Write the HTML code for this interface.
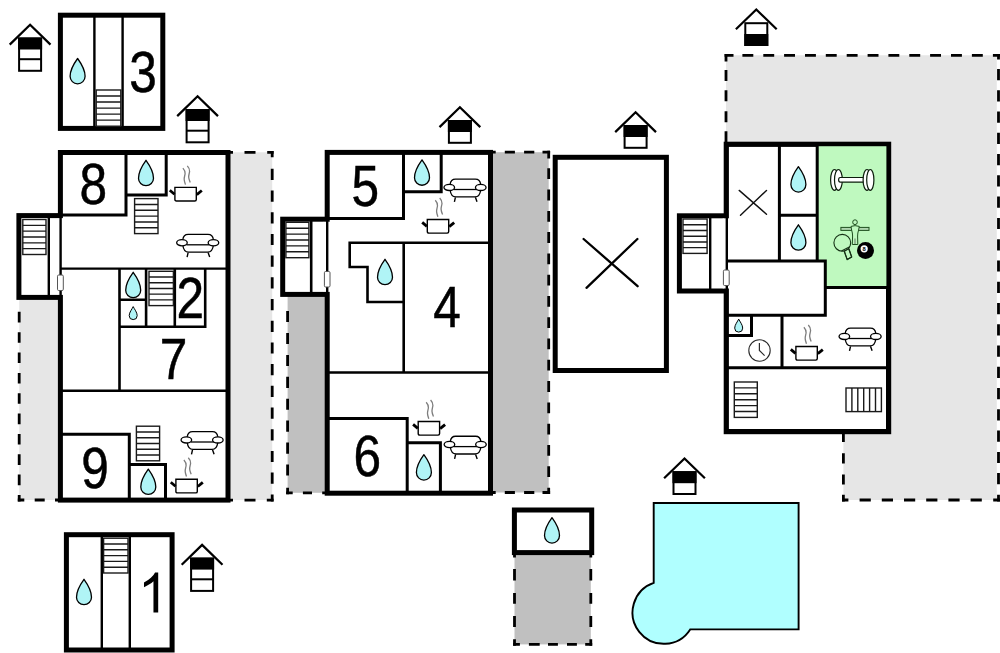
<!DOCTYPE html>
<html><head><meta charset="utf-8">
<style>
html,body{margin:0;padding:0;background:#fff;}
svg{display:block;}
text{font-family:"Liberation Sans",sans-serif;fill:#000;}
</style></head><body>
<svg width="1000" height="653" viewBox="0 0 1000 653">
<defs>
  <g id="drop"><path d="M0,1.500 C3.200,5.900 7.500,12.600 7.500,19.350 A7.500,7.500 0 0 1 -7.500,19.350 C-7.500,12.600 -3.200,5.900 0,1.500 Z" fill="#b0f4f6" stroke="#000" stroke-width="1.3" stroke-linejoin="round"/></g>
  <g id="dropS"><path d="M0,0.4 C1.1,2.8 4,6.2 4,9.4 A4,4 0 0 1 -4,9.4 C-4,6.2 -1.1,2.8 0,0.4 Z" fill="#b0f4f6" stroke="#000" stroke-width="1" stroke-linejoin="round"/></g>
  <g id="pot">
    <path d="M0.7,0.7 H22.1 V12.8 Q22.1,14.300 20.6,14.3 H2.2 Q0.7,14.300 0.7,12.8 Z" fill="#fff" stroke="#000" stroke-width="1.4"/>
    <path d="M-4.4,3.6 L0.3,7.6" stroke="#000" stroke-width="2.8" fill="none"/>
    <path d="M27.600,3.800 L22.600,7.900" stroke="#000" stroke-width="2.8" fill="none"/>
    <path d="M8.700,-18.600 C10.3,-16.8 11.100,-15 10.900,-13.100 C10.700,-11 9.800,-9.300 10.000,-7.200 C10.100,-5.300 10.800,-3.600 11.300,-2.100" stroke="#7d7d7d" stroke-width="1.300" fill="none"/>
    <path d="M13.100,-20.800 C14.8,-19 15.600,-17.200 15.400,-15.300 C15.200,-13.200 14.300,-11.500 14.500,-9.400 C14.600,-7.500 15.400,-5.800 16.000,-4.300" stroke="#7d7d7d" stroke-width="1.300" fill="none"/>
  </g>
  <g id="sofa" fill="#fff" stroke="#000" stroke-width="1.3">
    <path d="M6.8,6 Q7.4,0.65 12.2,0.65 H32 Q36.800,0.650 37.4,6"/>
    <path d="M6.8,11.2 Q7.6,18.400 12.600,18.400 H31.600 Q36.600,18.400 37.4,11.2"/>
    <path d="M10.500,11 H33.500"/>
    <ellipse cx="5.950" cy="8.900" rx="5.300" ry="3.100"/>
    <ellipse cx="37.450" cy="8.900" rx="5.300" ry="3.100"/>
    <path d="M12.100,18.800 L11.100,23.300 M32.100,18.800 L33.700,23.300" fill="none" stroke-width="1.400"/>
  </g>
</defs>
<rect width="1000" height="653" fill="#fff"/>

<g id="shades"><rect x="228" y="152.3" width="44.2" height="347.8" fill="#e6e6e6"/><path d="M228.0,152.3 H233.0 M244.5,152.3 H255.5 M267.2,152.3 H273.6" stroke="#000" stroke-width="2.8" fill="none"/><path d="M272.2,150.9 V157.2 M272.2,168.8 V180.0 M272.2,190.5 V201.7 M272.2,212.2 V223.4 M272.2,233.9 V245.1 M272.2,255.6 V266.8 M272.2,277.3 V288.5 M272.2,299.0 V310.2 M272.2,320.7 V331.9 M272.2,342.4 V353.6 M272.2,364.1 V375.3 M272.2,385.8 V397.0 M272.2,407.5 V418.7 M272.2,429.2 V440.4 M272.2,450.9 V462.1 M272.2,472.6 V483.8 M272.2,494.5 V501.5" stroke="#000" stroke-width="2.8" fill="none"/><path d="M228.0,500.1 H233.0 M244.5,500.1 H255.5 M266.8,500.1 H273.6" stroke="#000" stroke-width="2.8" fill="none"/><rect x="19.2" y="297" width="41" height="203" fill="#e6e6e6"/><path d="M19.2,311.8 V322.4 M19.2,332.2 V342.8 M19.2,352.5 V363.1 M19.2,372.9 V383.5 M19.2,393.2 V403.8 M19.2,413.6 V424.2 M19.2,433.9 V444.5 M19.2,454.2 V464.9 M19.2,474.6 V485.2 M19.2,495.1 V501.4" stroke="#000" stroke-width="2.8" fill="none"/><path d="M17.8,500 H24.3 M34.7,500 H44.7 M55.0,500 H60.0" stroke="#000" stroke-width="2.8" fill="none"/><rect x="490" y="152.2" width="58.7" height="340.3" fill="#c0c0c0"/><path d="M488.0,152.2 H495.7 M504.8,152.2 H514.9 M524.1,152.2 H534.3 M542.5,152.2 H550.1" stroke="#000" stroke-width="2.8" fill="none"/><path d="M548.7,150.8 V158.4 M548.7,168.3 V179.1 M548.7,189.6 V200.4 M548.7,210.9 V221.7 M548.7,232.1 V242.9 M548.7,253.4 V264.2 M548.7,274.7 V285.5 M548.7,296.0 V306.8 M548.7,317.3 V328.1 M548.7,338.5 V349.3 M548.7,359.8 V370.6 M548.7,381.1 V391.9 M548.7,402.4 V413.2 M548.7,423.7 V434.5 M548.7,444.9 V455.7 M548.7,466.2 V477.0 M548.7,487.7 V493.9" stroke="#000" stroke-width="2.8" fill="none"/><path d="M488.0,492.5 H495.7 M504.8,492.5 H514.9 M524.1,492.5 H534.3 M542.5,492.5 H550.1" stroke="#000" stroke-width="2.8" fill="none"/><rect x="287.6" y="294" width="40" height="198.8" fill="#c0c0c0"/><path d="M287.6,311.0 V322.1 M287.6,332.9 V344.0 M287.6,354.9 V366.0 M287.6,376.8 V387.9 M287.6,398.7 V409.8 M287.6,420.6 V431.8 M287.6,442.6 V453.7 M287.6,464.5 V475.6 M287.6,487.8 V494.2" stroke="#000" stroke-width="2.8" fill="none"/><path d="M286.2,492.8 H292.7 M302.9,492.8 H312.0 M322.2,492.8 H328.0" stroke="#000" stroke-width="2.8" fill="none"/><path d="M726,55.3 H996.8 V500 H843.4 V430 H726 Z" fill="#e6e6e6"/><path d="M726,53.9 V61.4 M726,69.9 V81.0 M726,90.2 V101.3 M726,111.2 V122.3 M726,131.2 V142.0" stroke="#000" stroke-width="2.8" fill="none"/><path d="M724.6,55.3 H733.5 M742.4,55.3 H753.3 M763.3,55.3 H774.2 M784.1,55.3 H795.0 M805.0,55.3 H815.9 M825.8,55.3 H836.7 M846.7,55.3 H857.6 M867.6,55.3 H878.5 M888.4,55.3 H899.3 M909.3,55.3 H920.2 M930.1,55.3 H941.0 M951.0,55.3 H961.9 M971.9,55.3 H982.8 M992.9,55.3 H1000.0" stroke="#000" stroke-width="2.8" fill="none"/><path d="M998.5,53.9 V59.5 M998.5,69.0 V80.2 M998.5,90.3 V101.5 M998.5,111.5 V122.7 M998.5,132.8 V144.0 M998.5,154.1 V165.3 M998.5,175.3 V186.5 M998.5,196.6 V207.8 M998.5,217.9 V229.1 M998.5,239.2 V250.4 M998.5,260.4 V271.6 M998.5,281.7 V292.9 M998.5,303.0 V314.2 M998.5,324.2 V335.4 M998.5,345.5 V356.7 M998.5,366.8 V378.0 M998.5,388.1 V399.2 M998.5,409.3 V420.5 M998.5,430.6 V441.8 M998.5,451.9 V463.1 M998.5,473.1 V484.3 M998.5,494.8 V501.4" stroke="#000" stroke-width="2.8" fill="none"/><path d="M842.0,500 H848.4 M859.6,500 H870.8 M881.8,500 H893.0 M904.0,500 H915.2 M926.2,500 H937.4 M948.4,500 H959.6 M970.6,500 H981.8 M993.2,500 H1000.0" stroke="#000" stroke-width="2.8" fill="none"/><path d="M843.4,432.0 V442.1 M843.4,453.2 V463.4 M843.4,474.4 V484.6 M843.4,494.8 V501.4" stroke="#000" stroke-width="2.8" fill="none"/><rect x="514.5" y="552" width="76.3" height="92.4" fill="#c0c0c0"/><path d="M514.5,554.0 V557.5 M514.5,569.0 V580.4 M514.5,593.0 V603.7 M514.5,616.1 V626.9 M514.5,639.3 V645.8" stroke="#000" stroke-width="2.8" fill="none"/><path d="M590.8,554.0 V557.5 M590.8,569.0 V580.4 M590.8,593.0 V603.7 M590.8,616.1 V626.9 M590.8,639.3 V645.8" stroke="#000" stroke-width="2.8" fill="none"/><path d="M513.1,644.4 H519.9 M528.9,644.4 H539.7 M548.0,644.4 H557.9 M567.0,644.4 H576.9 M585.2,644.4 H592.2" stroke="#000" stroke-width="2.8" fill="none"/></g>
<g id="b3"><rect x="60.4" y="15.2" width="102.4" height="113.2" fill="#fff" stroke="#000" stroke-width="5"/><path d="M94.4,15 V128.400 M122.6,15 V128.400" stroke="#000" stroke-width="2.4"/><g stroke="#1a1a1a" stroke-width="1.4" fill="#fff"><rect x="96.2" y="90.0" width="24.6" height="36.2"/><path d="M96.2,96.03 h24.6 M96.2,102.07 h24.6 M96.2,108.10 h24.6 M96.2,114.13 h24.6 M96.2,120.17 h24.6 "/></g><use href="#drop" x="77.6" y="57"/><text transform="translate(143,92) scale(0.87,1)" font-size="57" text-anchor="middle" stroke="#000" stroke-width="0.5">3</text><g><path d="M9.70,44.60 L30.1,24.80 L50.50,44.60" fill="none" stroke="#000" stroke-width="2.25"/><rect x="19.10" y="38.50" width="22.00" height="32.30" fill="#fff" stroke="#000" stroke-width="2"/><rect x="18.10" y="37.50" width="24.00" height="12" fill="#000"/><path d="M19.10,59.20 H41.10" stroke="#000" stroke-width="2"/></g></g>
<g id="bA"><rect x="18.9" y="215.6" width="41" height="81.8" fill="#fff" stroke="#000" stroke-width="5"/><path d="M48.8,215.5 V297" stroke="#000" stroke-width="2.4"/><g stroke="#1a1a1a" stroke-width="1.4" fill="#fff"><rect x="22.8" y="219.5" width="23.2" height="35.0"/><path d="M22.8,225.33 h23.2 M22.8,231.17 h23.2 M22.8,237.00 h23.2 M22.8,242.83 h23.2 M22.8,248.67 h23.2 "/></g><rect x="60.4" y="152.5" width="167.6" height="347.6" fill="#fff" stroke="#000" stroke-width="5"/><path d="M60.4,218.1 V294.9" stroke="#fff" stroke-width="7"/><path d="M60.6,217 V296" stroke="#000" stroke-width="2.4"/><path d="M126,152 V216.5 M60,215 H127.5 M126,195 H166.2 M166.2,152 V196.5" stroke="#000" stroke-width="3" fill="none"/><g stroke="#1a1a1a" stroke-width="1.4" fill="#fff"><rect x="134.6" y="198.6" width="23.4" height="35"/><path d="M134.6,204.43 h23.4 M134.6,210.27 h23.4 M134.6,216.10 h23.4 M134.6,221.93 h23.4 M134.6,227.77 h23.4 "/></g><use href="#drop" x="146" y="158.8"/><use href="#pot" x="174.2" y="186.700"/><use href="#sofa" x="176" y="233.800"/><path d="M60,268.6 H228" stroke="#000" stroke-width="2.4"/><path d="M119.5,268.6 V391 M60,390.8 H228 M119.5,326.8 H206.5 M205.2,268.6 V326.8 M146.1,268.6 V326.8 M174.8,268.6 V326.8 M119.5,299.7 H146.1" stroke="#000" stroke-width="2.6" fill="none"/><g stroke="#1a1a1a" stroke-width="1.4" fill="#fff"><rect x="149" y="271.3" width="24.4" height="34.3"/><path d="M149,277.02 h24.4 M149,282.73 h24.4 M149,288.45 h24.4 M149,294.17 h24.4 M149,299.88 h24.4 "/></g><use href="#drop" x="133.2" y="270.8"/><use href="#dropS" x="133.2" y="306.2"/><text transform="translate(190.3,318) scale(0.87,1)" font-size="57" text-anchor="middle" stroke="#000" stroke-width="0.5">2</text><text transform="translate(173.5,378.5) scale(0.87,1)" font-size="57" text-anchor="middle" stroke="#000" stroke-width="0.5">7</text><path d="M60,434.2 H129.3 V500 M129.3,464.4 H165.5 V500" stroke="#000" stroke-width="3" fill="none"/><g stroke="#1a1a1a" stroke-width="1.4" fill="#fff"><rect x="136.4" y="426.2" width="23.2" height="34.6"/><path d="M136.4,431.97 h23.2 M136.4,437.73 h23.2 M136.4,443.50 h23.2 M136.4,449.27 h23.2 M136.4,455.03 h23.2 "/></g><use href="#sofa" x="180.4" y="431"/><use href="#pot" x="175.2" y="478.600"/><use href="#drop" x="148.3" y="467.6"/><text transform="translate(95,487.5) scale(0.87,1)" font-size="57" text-anchor="middle" stroke="#000" stroke-width="0.5">9</text><text transform="translate(93.3,203.8) scale(0.87,1)" font-size="57" text-anchor="middle" stroke="#000" stroke-width="0.5">8</text><rect x="57.5" y="275" width="5.8" height="15.5" rx="1.2" fill="#fff" stroke="#555" stroke-width="1"/><g><path d="M177.20,116.10 L197.6,96.30 L218.00,116.10" fill="none" stroke="#000" stroke-width="2.25"/><rect x="186.60" y="110.00" width="22.00" height="32.30" fill="#fff" stroke="#000" stroke-width="2"/><rect x="185.60" y="109.00" width="24.00" height="12" fill="#000"/><path d="M186.60,130.70 H208.60" stroke="#000" stroke-width="2"/></g></g>
<g id="b1"><rect x="66.4" y="534.7" width="105.7" height="115.3" fill="#fff" stroke="#000" stroke-width="5"/><path d="M101.8,534 V650 M129.8,534 V650" stroke="#000" stroke-width="2.4"/><g stroke="#1a1a1a" stroke-width="1.4" fill="#fff"><rect x="103.6" y="538.2" width="24.4" height="34.8"/><path d="M103.6,544.00 h24.4 M103.6,549.80 h24.4 M103.6,555.60 h24.4 M103.6,561.40 h24.4 M103.6,567.20 h24.4 "/></g><use href="#drop" x="84" y="577.8"/><path transform="translate(138.13,612.6) scale(0.0263,-0.02735)" d="M763 0H583V1147Q518 1085 412.5 1023T223 930V1104Q373 1174.5 485.5 1275T644 1470H763V0Z" fill="#000"/><g><path d="M181.70,564.70 L202.1,544.90 L222.50,564.70" fill="none" stroke="#000" stroke-width="2.25"/><rect x="191.10" y="558.60" width="22.00" height="32.30" fill="#fff" stroke="#000" stroke-width="2"/><rect x="190.10" y="557.60" width="24.00" height="12" fill="#000"/><path d="M191.10,579.30 H213.10" stroke="#000" stroke-width="2"/></g></g>
<g id="bB"><rect x="282.7" y="219.2" width="44" height="75.2" fill="#fff" stroke="#000" stroke-width="5"/><path d="M311.2,219 V294" stroke="#000" stroke-width="2.6"/><g stroke="#1a1a1a" stroke-width="1.4" fill="#fff"><rect x="285.9" y="222.3" width="23" height="35.4"/><path d="M285.9,228.20 h23 M285.9,234.10 h23 M285.9,240.00 h23 M285.9,245.90 h23 M285.9,251.80 h23 "/></g><rect x="327.2" y="152.4" width="163.3" height="340.8" fill="#fff" stroke="#000" stroke-width="5"/><path d="M327.2,221.7 V291.9" stroke="#fff" stroke-width="7"/><path d="M327.2,220 V293.500" stroke="#000" stroke-width="2.4"/><path d="M327,218.5 H403.5 V152 M403.5,191.7 H441.2 V152" stroke="#000" stroke-width="3" fill="none"/><text transform="translate(365.3,205.7) scale(0.87,1)" font-size="57" text-anchor="middle" stroke="#000" stroke-width="0.5">5</text><use href="#drop" x="422" y="158.4"/><use href="#sofa" x="443.3" y="178.500"/><use href="#pot" x="426.6" y="218.800"/><path d="M490,242.8 H349.7 V267 H367.5 V302 H403.7 M403.7,242.8 V372.5 M327,372.5 H490" stroke="#000" stroke-width="2.6" fill="none"/><use href="#drop" x="385" y="257.8"/><text transform="translate(447,327.4) scale(0.87,1)" font-size="57" text-anchor="middle" stroke="#000" stroke-width="0.5">4</text><path d="M327,418.5 H407.2 V493 M407.2,442.7 H440.4 V493" stroke="#000" stroke-width="3" fill="none"/><text transform="translate(367.3,475.6) scale(0.87,1)" font-size="57" text-anchor="middle" stroke="#000" stroke-width="0.5">6</text><use href="#pot" x="417.5" y="420.800"/><use href="#sofa" x="443.5" y="435.600"/><use href="#drop" x="423.9" y="453.2"/><rect x="324.4" y="271.5" width="5.6" height="15.5" rx="1.2" fill="#fff" stroke="#555" stroke-width="1"/><g><path d="M439.50,127.10 L459.9,107.30 L480.30,127.10" fill="none" stroke="#000" stroke-width="2.25"/><rect x="448.90" y="121.00" width="22.00" height="21.80" fill="#fff" stroke="#000" stroke-width="2"/><rect x="447.90" y="120.00" width="24.00" height="12" fill="#000"/></g></g>
<g id="bC"><rect x="555.2" y="157.3" width="111.2" height="213.2" fill="#fff" stroke="#000" stroke-width="5"/><path d="M583.6,239 L637.6,286.200 M637.4,239 L586.5,287.800" stroke="#000" stroke-width="2.3" stroke-linecap="round"/><g><path d="M615.20,132.10 L635.6,112.30 L656.00,132.10" fill="none" stroke="#000" stroke-width="2.25"/><rect x="624.60" y="126.00" width="22.00" height="21.80" fill="#fff" stroke="#000" stroke-width="2"/><rect x="623.60" y="125.00" width="24.00" height="12" fill="#000"/></g></g>
<g id="bD"><rect x="679.4" y="215.8" width="47" height="75.2" fill="#fff" stroke="#000" stroke-width="5"/><path d="M710.2,215 V291" stroke="#000" stroke-width="2.4"/><g stroke="#1a1a1a" stroke-width="1.4" fill="#fff"><rect x="683" y="219" width="24.1" height="34.4"/><path d="M683,224.73 h24.1 M683,230.47 h24.1 M683,236.20 h24.1 M683,241.93 h24.1 M683,247.67 h24.1 "/></g><rect x="726.3" y="144.3" width="162.3" height="287.3" fill="#fff" stroke="#000" stroke-width="5.2"/><path d="M726.3,218.3 V288.5" stroke="#fff" stroke-width="7"/><path d="M726.8,217 V290" stroke="#000" stroke-width="2.4"/><path d="M817.2,146.3 H886.4 V287.6 H825.3 V261 H817.2 Z" fill="#bff9bf"/><path d="M779.4,144 V261 M817.2,144 V261 M779.4,215.2 H817.2 M726,261 H825.3 M825.3,259.500 V315.2 M726,315.2 H826.8 M825.3,287.6 H889 M726,367.8 H889 M782,315.2 V367.8 M726,335.400 H751.500 V315.2" stroke="#000" stroke-width="3" fill="none"/><path d="M739.2,190.400 L766.5,214.200 M766.5,190.400 L740.5,215.300" stroke="#111" stroke-width="1.4" stroke-linecap="round"/><use href="#drop" x="798.4" y="165.2"/><use href="#drop" x="798.4" y="223.3"/><use href="#dropS" x="738.7" y="318.7"/><circle cx="759.500" cy="350.500" r="10.700" fill="#fff" stroke="#2a2a2a" stroke-width="1.1"/><path d="M759.400,343 V350.400 L764.600,355.600" fill="none" stroke="#2a2a2a" stroke-width="1.2"/><use href="#pot" x="795.2" y="345.800"/><use href="#sofa" x="838.4" y="327.500"/><g stroke="#1a1a1a" stroke-width="1.4" fill="#fff"><rect x="734.3" y="382" width="23" height="35.4"/><path d="M734.3,387.90 h23 M734.3,393.80 h23 M734.3,399.70 h23 M734.3,405.60 h23 M734.3,411.50 h23 "/></g><g stroke="#1a1a1a" stroke-width="1.4" fill="#fff"><rect x="846" y="388" width="35.4" height="23.6"/><path d="M851.90,388 v23.6 M857.80,388 v23.6 M863.70,388 v23.6 M869.60,388 v23.6 M875.50,388 v23.6 "/></g><rect x="723.4" y="270" width="5.8" height="15.5" rx="1.2" fill="#fff" stroke="#555" stroke-width="1"/><g fill="#fff" stroke="#0c1c0c" stroke-width="1.2"><ellipse cx="834.5" cy="179.9" rx="3.9" ry="10.4"/><ellipse cx="838.4" cy="179.9" rx="3.9" ry="10.4"/><path d="M840.2,177.5 H864 V182.1 H840.2 Q838.6,182.1 838.6,179.8 Q838.6,177.500 840.2,177.500 Z"/><ellipse cx="867" cy="179.9" rx="3.9" ry="10.4"/><ellipse cx="870.3" cy="179.900" rx="3.6" ry="10.400"/></g><g stroke="#1f4f1f" stroke-width="1" fill="#bff9bf"><rect x="840.9" y="227.4" width="28.1" height="3" fill="#b0d6b0"/><path d="M851,226.4 Q855,224.9 859.3,226.4 L858.6,230 Q857.6,233 857.6,236 L857.8,244.5 H852.3 L852.6,236 Q852.6,233 851.6,230 Z"/><path d="M855,238.5 V244" stroke="#8aa88a" stroke-width="1.6"/><ellipse cx="855" cy="222.2" rx="2.3" ry="2.4"/></g><g stroke="#153015" stroke-width="1.1" fill="#bff9bf" stroke-linejoin="round"><path d="M844.2,250.6 L848.6,248.5 L851.7,257 L847.2,259.6 Z"/><circle cx="842.3" cy="242.8" r="8.4"/><path d="M841.4,251.100 L849.8,246.8" fill="none"/><path d="M844,250.9 L847.2,259.6 L851.7,257 L848.9,248.8" fill="none"/></g><circle cx="865.5" cy="250.5" r="8.500" fill="#000"/><circle cx="864.2" cy="248.800" r="3.600" fill="#fff"/><text x="864.2" y="250.900" font-size="5.800" font-weight="bold" text-anchor="middle">8</text><g><path d="M735.90,29.30 L756.3,9.50 L776.70,29.30" fill="none" stroke="#000" stroke-width="2.25"/><rect x="745.30" y="23.20" width="22.00" height="21.80" fill="#fff" stroke="#000" stroke-width="2"/><rect x="744.30" y="34.00" width="24.00" height="12" fill="#000"/></g></g>
<g id="pool"><path d="M653.7,503 H798.6 V629.4 H690.2 A31.3,31.3 0 1 1 653.7,582.9 Z" fill="#b0ffff" stroke="#000" stroke-width="1.9"/><g><path d="M664.10,478.30 L684.5,458.50 L704.90,478.30" fill="none" stroke="#000" stroke-width="2.25"/><rect x="673.50" y="472.20" width="22.00" height="21.80" fill="#fff" stroke="#000" stroke-width="2"/><rect x="672.50" y="471.20" width="24.00" height="12" fill="#000"/></g></g>
<g id="shed"><rect x="514.4" y="510" width="77.3" height="42.6" fill="#fff" stroke="#000" stroke-width="5"/><use href="#drop" x="552" y="516.2"/></g>
</svg>
</body></html>
